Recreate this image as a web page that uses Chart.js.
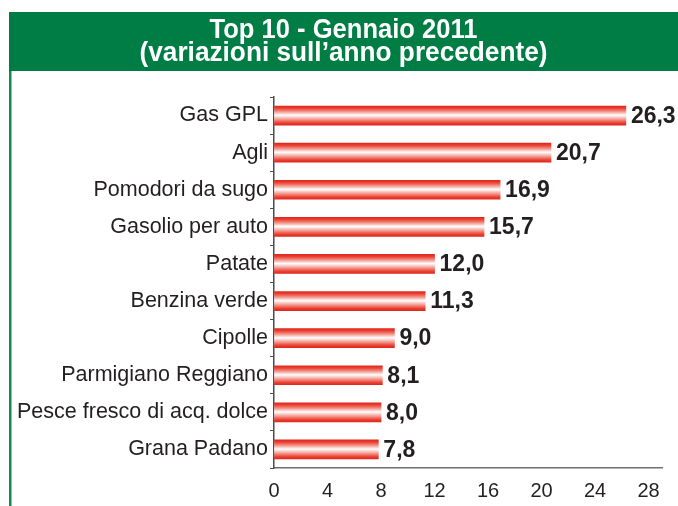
<!DOCTYPE html>
<html>
<head>
<meta charset="utf-8">
<script src="https://cdn.jsdelivr.net/npm/chart.js@4"></script>
<style>
  html, body { margin: 0; padding: 0; background: #ffffff; }
  #wrap { position: relative; width: 678px; height: 506px; }
</style>
</head>
<body>
<div id="wrap"><canvas id="c" width="678" height="506"></canvas></div>
<script>
const titleLines = ['Top 10 - Gennaio 2011', '(variazioni sull\u2019anno precedente)'];
const categories = ['Gas GPL', 'Agli', 'Pomodori da sugo', 'Gasolio per auto', 'Patate', 'Benzina verde', 'Cipolle', 'Parmigiano Reggiano', 'Pesce fresco di acq. dolce', 'Grana Padano'];
const values = [26.3, 20.7, 16.9, 15.7, 12.0, 11.3, 9.0, 8.1, 8.0, 7.8];
const xTicks = [0, 4, 8, 12, 16, 20, 24, 28];

const TEXT = '#231f20';
const GREEN = '#007c45';
const FONT = '"Liberation Sans", Arial, sans-serif';

const framePlugin = {
  id: 'frame',
  beforeDraw(chart) {
    const ctx = chart.ctx;
    ctx.save();
    ctx.fillStyle = '#ffffff';
    ctx.fillRect(0, 0, chart.width, chart.height);
    ctx.fillStyle = GREEN;
    ctx.fillRect(9, 12, chart.width - 9, 59);
    ctx.fillStyle = '#0f8b50';
    ctx.fillRect(9, 71, 2.5, chart.height - 71);
    ctx.fillStyle = '#ffffff';
    ctx.font = 'bold 27px ' + FONT;
    ctx.textAlign = 'center';
    ctx.textBaseline = 'alphabetic';
    const cx = 9 + (chart.width - 9) / 2;
    ctx.fillText(titleLines[0], cx, 37.5, 268);
    ctx.fillText(titleLines[1], cx, 60.5, 408);
    ctx.restore();
  }
};

const valueLabels = {
  id: 'valueLabels',
  afterDatasetsDraw(chart) {
    const ctx = chart.ctx;
    const meta = chart.getDatasetMeta(0);
    ctx.save();
    ctx.fillStyle = TEXT;
    ctx.font = 'bold 23px ' + FONT;
    ctx.textAlign = 'left';
    ctx.textBaseline = 'middle';
    meta.data.forEach((bar, i) => {
      const txt = values[i].toFixed(1).replace('.', ',');
      ctx.fillText(txt, bar.x + 5, bar.y + 1);
    });
    ctx.restore();
  }
};

function barGradient(context) {
  const chart = context.chart;
  const y = chart.scales && chart.scales.y;
  if (!y || context.dataIndex === undefined || !chart.chartArea) return '#e8352b';
  const cy = y.getPixelForValue(context.dataIndex);
  const h = 19;
  const g = chart.ctx.createLinearGradient(0, cy - h / 2, 0, cy + h / 2);
  g.addColorStop(0, '#e2261c');
  g.addColorStop(0.12, '#ea4234');
  g.addColorStop(0.3, '#f39a8f');
  g.addColorStop(0.48, '#ffffff');
  g.addColorStop(0.7, '#f39a8f');
  g.addColorStop(0.88, '#ea4234');
  g.addColorStop(1, '#e2261c');
  return g;
}

new Chart(document.getElementById('c'), {
  type: 'bar',
  data: {
    labels: categories,
    datasets: [{
      data: values,
      backgroundColor: barGradient,
      borderWidth: 0,
      barThickness: 19
    }]
  },
  options: {
    indexAxis: 'y',
    responsive: false,
    animation: false,
    devicePixelRatio: 1,
    layout: { padding: { top: 97, right: 16, bottom: 0, left: 0 } },
    plugins: {
      legend: { display: false },
      title: { display: false },
      tooltip: { enabled: false }
    },
    scales: {
      x: {
        min: 0,
        max: 29,
        afterBuildTicks(scale) { scale.ticks = xTicks.map(v => ({ value: v })); },
        afterFit(scale) { scale.height = 38; },
        grid: { drawOnChartArea: false, drawTicks: false },
        border: { display: true, color: '#6d6e70', width: 1.5 },
        ticks: {
          color: TEXT,
          font: { family: FONT, size: 20 },
          padding: 11,
          maxRotation: 0,
          autoSkip: false
        }
      },
      y: {
        afterFit(scale) { scale.width = 274; },
        grid: { drawOnChartArea: false, drawTicks: true, tickLength: 4, color: '#4d4d4f', lineWidth: 1, offset: true },
        border: { display: true, color: '#4d4d4f', width: 1.5 },
        ticks: {
          color: TEXT,
          font: { family: FONT, size: 21.5 },
          padding: 2,
          autoSkip: false
        }
      }
    }
  },
  plugins: [framePlugin, valueLabels]
});
</script>
</body>
</html>
